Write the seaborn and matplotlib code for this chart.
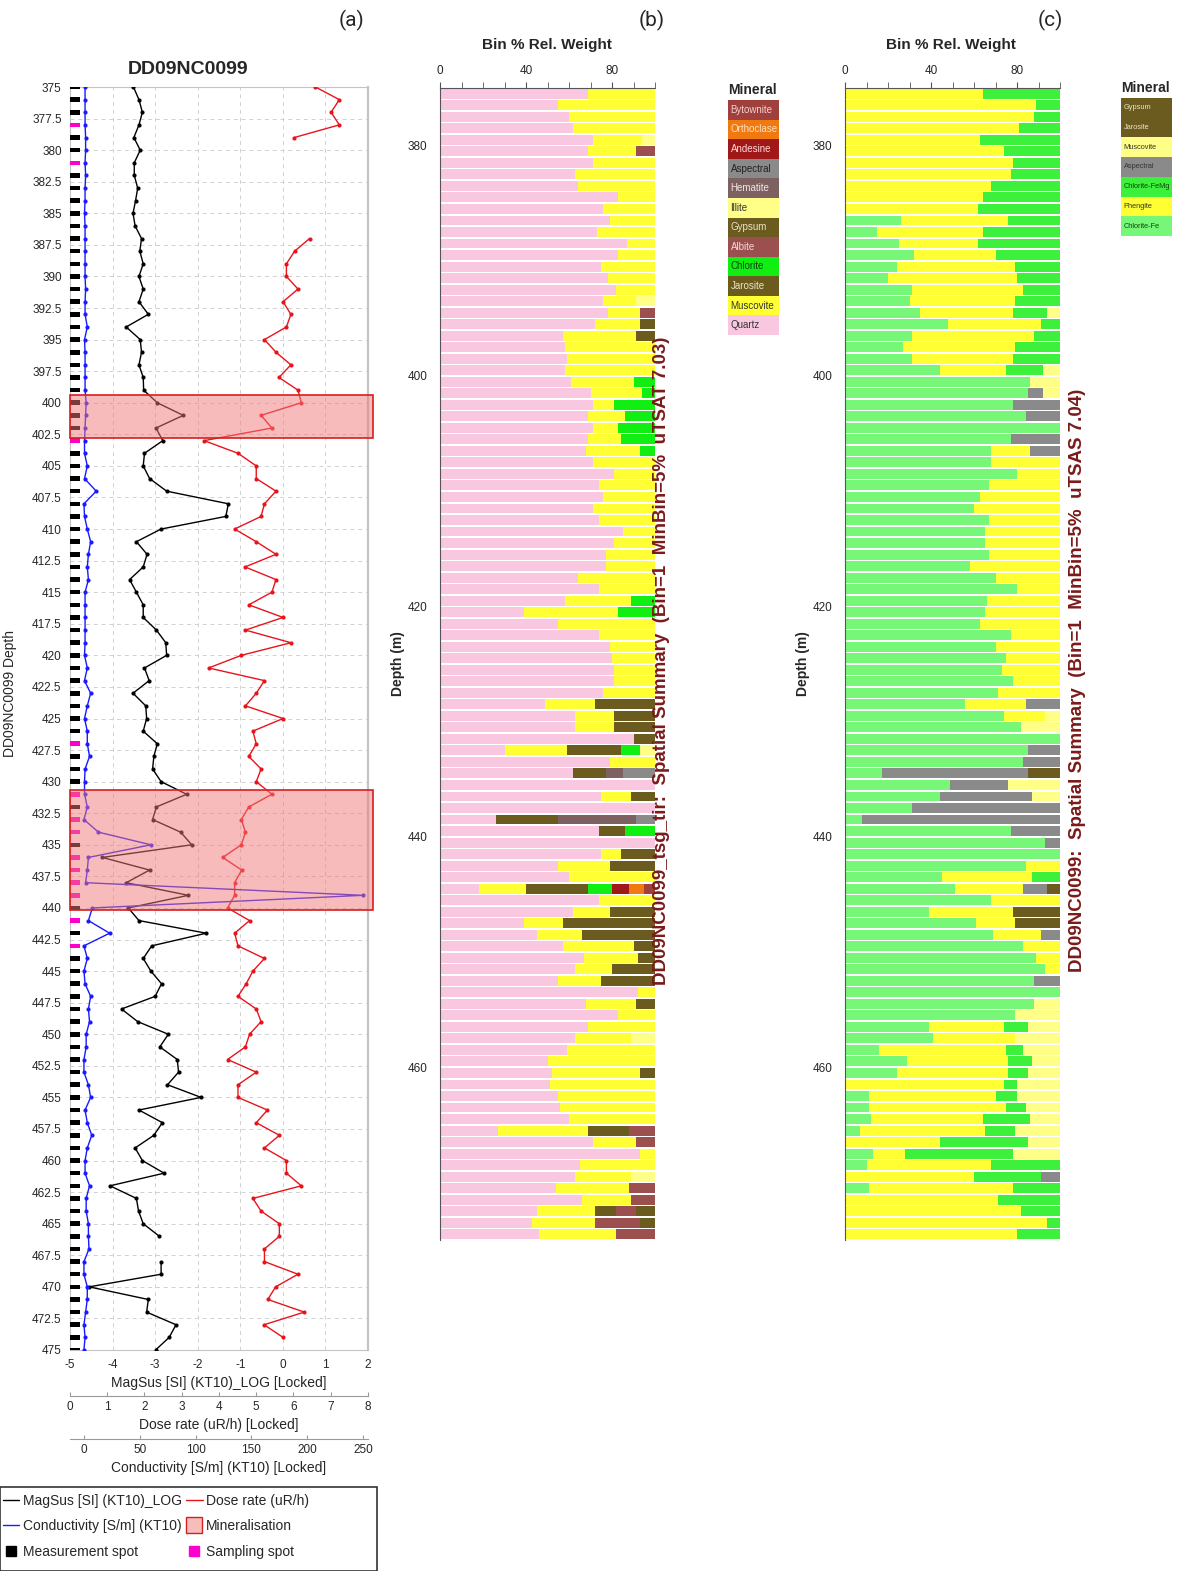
import matplotlib
matplotlib.use("Agg")
import matplotlib.pyplot as plt
import seaborn as sns
import pandas as pd
import numpy as np
from matplotlib.lines import Line2D
from matplotlib.patches import Rectangle

# ---------------- panel (a) : KT10 readings, one per metre 375..475 m
depth = np.arange(375, 476)
nan = np.nan

magsus = [-3.51, -3.38, -3.30, -3.38, -3.50, -3.35, -3.49, -3.49, -3.41, -3.46,
          -3.52, -3.47, -3.32, -3.36, -3.28, -3.38, -3.28, -3.38, -3.16, -3.68,
          -3.35, -3.32, -3.38, -3.28, -3.27, -2.95, -2.34, -2.98, -2.82, -3.25,
          -3.28, -3.13, -2.73, -1.28, -1.34, -2.86, -3.44, -3.19, -3.28, -3.60,
          -3.44, -3.28, -3.28, -2.97, -2.75, -2.73, -3.25, -3.14, -3.52, -3.22,
          -3.20, -3.28, -2.95, -3.03, -3.06, -2.86, -2.26, -2.97, -3.06, -2.40,
          -2.14, -4.24, -3.13, -3.68, -2.22, -3.63, -3.38, -1.80, -3.08, -3.28,
          -3.10, -2.85, -3.00, -3.79, -3.41, -2.69, -2.89, -2.48, -2.45, -2.71,
          -1.92, -3.38, -2.83, -3.03, -3.47, -3.30, -2.79, -4.06, -3.44, -3.39,
          -3.28, -2.90, nan, -2.86, -2.86, -4.55, -3.16, -3.20, -2.51, -2.67, -2.99]

dose = [6.59, 7.23, 7.01, 7.23, 6.02, nan, nan, nan, nan, nan,
        nan, nan, 6.43, 6.03, 5.81, 5.81, 6.12, 5.72, 5.93, 5.81,
        5.22, 5.53, 5.93, 5.61, 6.12, 6.21, 5.13, 5.42, 3.60, 4.51,
        5.00, 5.00, 5.53, 5.22, 5.13, 4.42, 5.00, 5.53, 4.70, 5.53,
        5.42, 4.80, 5.72, 4.71, 5.93, 4.60, 3.72, 5.22, 5.00, 4.71,
        5.72, 4.91, 5.00, 4.80, 5.13, 5.00, 5.42, 4.80, 4.60, 4.71,
        4.60, 4.10, 4.61, 4.42, 4.42, 4.23, 4.82, 4.42, 4.51, 5.22,
        4.91, 4.73, 4.51, 5.00, 5.13, 4.82, 4.71, 4.23, 5.00, 4.51,
        4.51, 5.30, 5.00, 5.62, 5.22, 5.81, 5.81, 6.21, 4.91, 5.13,
        5.62, 5.62, 5.22, 5.22, 6.12, 5.52, 5.31, 6.29, 5.21, 5.72, nan]

cond = [1, 1, 1, 1, 1.5, 1.5, 1, 1.5, 1, 1,
        0.5, 1, 1, 1, 1, 1, 1.5, 1, 1, 3,
        0.5, 1, 1, 1, 1, 2, 1.5, 1, 0.5, 0.5,
        3, 0.5, 11, 0, 0.5, 3, 6, 4, 3, 4,
        1, 1, 1, 1, 1, 0.5, 3, 0.5, 6, 3,
        0.5, 3, 3, 5, 1, 0.5, 0.5, 3, 0, 13,
        60, 4, 3, 1.5, 250, 7.5, 4, 23, 0, 3,
        0, 1, 6, 4, 5, 2, 2, 0, 0, 4,
        6, 1, 3, 7, 3, 1, 1, 5, 2, 2,
        4, 4, 4.5, 0, 0, 3, 3, 1.5, 0, 1, 0]

sampling_depths = [378, 381, 403, 427, 431, 433, 434, 436, 437, 438, 439, 441, 443]
mineral_zones = [(399.4, 402.8), (430.7, 440.2)]

# ---------------- panel (b) : TSG TIR bin % per metre (375..474 m)
bins = np.arange(375, 475)
b_quartz = [69, 55, 60, 62, 71, 69, 71, 63, 64, 83,
            76, 79, 73, 87, 83, 75, 78, 82, 76, 78,
            72, 57, 58, 59, 58, 61, 70, 71, 69, 71,
            69, 68, 71, 81, 74, 76, 71, 74, 85, 81,
            77, 77, 64, 74, 58, 39, 55, 74, 79, 80,
            81, 81, 76, 49, 63, 63, 90, 30, 79, 62,
            100, 75, 100, 26, 74, 100, 75, 55, 60, 18,
            74, 62, 39, 45, 57, 67, 63, 55, 92, 68,
            83, 69, 63, 59, 50, 52, 51, 55, 56, 60,
            27, 71, 93, 65, 63, 54, 66, 45, 43, 46]
b_muscovite = [31, 45, 40, 38, 23, 22, 29, 37, 36, 17,
               24, 21, 27, 13, 17, 25, 22, 18, 15, 15,
               21, 34, 42, 41, 42, 29, 24, 10, 17, 12,
               15, 25, 29, 19, 26, 24, 29, 26, 15, 19,
               23, 23, 36, 26, 31, 44, 45, 26, 21, 20,
               19, 19, 24, 23, 18, 18, 0, 29, 21, 0,
               0, 14, 0, 0, 0, 0, 9, 24, 40, 22,
               26, 17, 18, 21, 33, 25, 17, 20, 8, 23,
               17, 31, 26, 41, 50, 41, 49, 45, 44, 40,
               42, 20, 7, 35, 26, 34, 23, 27, 29, 36]
b_jarosite = {395: 7, 396: 9, 428: 28, 429: 19, 430: 19, 431: 10, 432: 25, 434: 15,
              436: 11, 438: 29, 439: 12, 441: 16, 442: 21, 444: 29, 446: 21, 447: 43,
              448: 34, 449: 10, 450: 8, 451: 20, 452: 25, 454: 9, 460: 7, 465: 19, 472: 10}
b_hematite = {434: 8, 438: 36}
b_aspectral = {434: 15, 438: 9}
b_chlorite = {400: 10, 401: 6, 402: 19, 403: 14, 404: 17, 405: 16, 406: 7,
              419: 11, 420: 17, 432: 9, 439: 14, 444: 11}
b_illite = {379: 6, 393: 9, 432: 7, 457: 11, 469: 11}
b_andesine = {444: 8}
b_orthoclase = {444: 7}
b_bytownite = {444: 5}
b_albite = {380: 9, 394: 7, 465: 12, 466: 9, 470: 12, 471: 11, 472: 9, 473: 21, 474: 18}
b_gypsum = {472: 9, 473: 7}

# ---------------- panel (c) : TSG SWIR bin % per metre
c_chlorite_fe = [0, 0, 0, 0, 0, 0, 0, 0, 0, 0,
                 0, 26, 15, 25, 32, 24, 20, 31, 30, 35,
                 48, 31, 27, 31, 44, 86, 85, 78, 84, 100,
                 77, 68, 68, 80, 67, 63, 60, 67, 65, 65,
                 67, 58, 70, 80, 66, 65, 63, 77, 70, 75,
                 73, 78, 71, 56, 74, 82, 100, 85, 83, 17,
                 49, 44, 31, 8, 77, 93, 100, 84, 45, 51,
                 68, 39, 61, 69, 83, 89, 93, 88, 100, 88,
                 79, 39, 41, 16, 29, 24, 0, 11, 11, 12,
                 7, 0, 13, 10, 0, 11, 0, 0, 0, 0]
c_phengite = [64, 89, 88, 81, 63, 74, 78, 77, 68, 64,
              62, 50, 49, 37, 38, 55, 60, 52, 49, 43,
              43, 57, 52, 47, 31, 0, 0, 0, 0, 0,
              0, 18, 32, 20, 33, 37, 40, 33, 35, 35,
              33, 42, 30, 20, 34, 35, 37, 23, 30, 25,
              27, 22, 29, 28, 19, 0, 0, 0, 0, 0,
              0, 0, 0, 0, 0, 0, 0, 16, 42, 32,
              32, 39, 18, 22, 17, 11, 7, 0, 0, 0,
              0, 35, 38, 59, 47, 52, 74, 59, 64, 52,
              58, 44, 15, 58, 60, 67, 71, 82, 94, 80]
c_chlorite_femg = [36, 11, 12, 19, 37, 26, 22, 23, 32, 36,
                   38, 24, 36, 38, 30, 21, 20, 17, 21, 16,
                   9, 12, 21, 22, 17, 0, 0, 0, 0, 0,
                   0, 0, 0, 0, 0, 0, 0, 0, 0, 0,
                   0, 0, 0, 0, 0, 0, 0, 0, 0, 0,
                   0, 0, 0, 0, 0, 0, 0, 0, 0, 0,
                   0, 0, 0, 0, 0, 0, 0, 0, 13, 0,
                   0, 0, 0, 0, 0, 0, 0, 0, 0, 0,
                   0, 11, 0, 8, 11, 9, 6, 10, 9, 22,
                   14, 41, 50, 32, 31, 22, 29, 18, 6, 20]
c_aspectral = {401: 7, 402: 22, 403: 16, 405: 23, 406: 14, 428: 16, 432: 15, 433: 17,
               434: 68, 435: 27, 436: 43, 437: 69, 438: 92, 439: 23, 440: 7, 444: 11,
               448: 9, 452: 12, 469: 9}
c_muscovite = {394: 6, 399: 8, 400: 14, 401: 8, 429: 7, 430: 18, 435: 24, 436: 13,
               454: 12, 455: 21, 456: 15, 457: 21, 458: 17, 459: 13, 460: 15, 461: 20,
               462: 20, 463: 16, 464: 14, 465: 21, 466: 15, 467: 22}
c_jarosite = {434: 15, 444: 6, 446: 22, 447: 21}

olive = "#6b5b1f"
b_colors = {"Quartz": "#f9c8e0", "Muscovite": "#ffff33", "Jarosite": olive,
            "Hematite": "#7d6060", "Aspectral": "#8a8a8a", "Chlorite": "#11ee11",
            "Illite": "#ffff88", "Andesine": "#a01818", "Orthoclase": "#f07a10",
            "Bytownite": "#a0403c", "Albite": "#9b4f4f", "Gypsum": olive}
c_colors = {"Chlorite-Fe": "#77f777", "Phengite": "#ffff33", "Chlorite-FeMg": "#3cf03c",
            "Aspectral": "#8a8a8a", "Muscovite": "#ffff88", "Jarosite": olive}

b_legend = ["Bytownite", "Orthoclase", "Andesine", "Aspectral", "Hematite", "Illite",
            "Gypsum", "Albite", "Chlorite", "Jarosite", "Muscovite", "Quartz"]
b_legend_text = ["#f3d0d0", "#ffe0c0", "#ffd8d8", "#222222", "#f3e6e6", "#333333",
                 "#ece4c8", "#f3d8d8", "#114411", "#ece4c8", "#333333", "#333333"]
c_legend = ["Gypsum", "Jarosite", "Muscovite", "Aspectral", "Chlorite-FeMg",
            "Phengite", "Chlorite-Fe"]
c_legend_colors = [olive, olive, "#ffff88", "#8a8a8a", "#3cf03c", "#ffff33", "#77f777"]
c_legend_text = ["#ece4c8", "#ece4c8", "#333333", "#333333", "#114411", "#333333", "#114411"]


def sparse(d):
    return pd.Series(d, dtype=float).reindex(bins).fillna(0).values


df_b = pd.DataFrame({"Quartz": b_quartz, "Muscovite": b_muscovite,
                     "Jarosite": sparse(b_jarosite), "Hematite": sparse(b_hematite),
                     "Aspectral": sparse(b_aspectral), "Chlorite": sparse(b_chlorite),
                     "Illite": sparse(b_illite), "Andesine": sparse(b_andesine),
                     "Orthoclase": sparse(b_orthoclase), "Bytownite": sparse(b_bytownite),
                     "Albite": sparse(b_albite), "Gypsum": sparse(b_gypsum)}, index=bins)
df_c = pd.DataFrame({"Chlorite-Fe": c_chlorite_fe, "Phengite": c_phengite,
                     "Chlorite-FeMg": c_chlorite_femg, "Aspectral": sparse(c_aspectral),
                     "Muscovite": sparse(c_muscovite), "Jarosite": sparse(c_jarosite)},
                    index=bins)

sns.set_style("white")
plt.rcParams["font.family"] = ["Liberation Sans", "DejaVu Sans"]
plt.rcParams["axes.unicode_minus"] = False

W, H = 1179, 1571
fig = plt.figure(figsize=(W / 100, H / 100), dpi=100)


def px_axes(x0, y0, x1, y1):
    return fig.add_axes([x0 / W, 1 - y1 / H, (x1 - x0) / W, (y1 - y0) / H])


# ================= panel (a)
dfa = pd.DataFrame({"depth": depth, "magsus": magsus, "dose": dose, "cond": cond})
dfa["magsus_seg"] = dfa["magsus"].isna().cumsum()
dfa["dose_seg"] = dfa["dose"].isna().cumsum()

ax = px_axes(70, 87, 368, 1350)
ax_dose = ax.twiny()
ax_cond = ax.twiny()

spot_colors = ["#ff00cc" if d in sampling_depths else "black" for d in depth]
ax.barh(depth, 0.235, left=-5, height=0.36, color=spot_colors, linewidth=0, zorder=3)

sns.lineplot(data=dfa, x="magsus", y="depth", units="magsus_seg", estimator=None,
             sort=False, color="black", lw=1, marker="o", markersize=3,
             markeredgewidth=0, ax=ax, zorder=4)
sns.lineplot(data=dfa, x="dose", y="depth", units="dose_seg", estimator=None,
             sort=False, color="#e8141c", lw=1, marker="o", markersize=3,
             markeredgewidth=0, ax=ax_dose)
sns.lineplot(data=dfa, x="cond", y="depth", estimator=None, sort=False,
             color="#1a1aff", lw=1, marker="o", markersize=3,
             markeredgewidth=0, ax=ax_cond)

for lo, hi in mineral_zones:
    ax_cond.axhspan(lo, hi, xmin=0, xmax=1.017, facecolor=(0.94, 0.47, 0.47, 0.5),
                    edgecolor="#d42020", lw=1.2, clip_on=False, zorder=6)

ax.set_xlim(-5, 2)
ax.set_ylim(475, 375)
ax.set_xticks(range(-5, 3))
ax.set_yticks(np.arange(375, 476, 2.5))
ax.set_yticklabels([f"{v:g}" for v in np.arange(375, 476, 2.5)])
ax.grid(True, color="#d0d0d0", linestyle=(0, (4, 4)), linewidth=0.7)
ax.tick_params(axis="both", length=0, labelsize=8.5)
ax.tick_params(axis="x", pad=6.5)
ax.tick_params(axis="y", pad=6)
for s in ax.spines.values():
    s.set_color("#c4c4c4")
    s.set_linewidth(0.8)
ax.spines["right"].set_linewidth(1.6)
ax.set_xlabel("MagSus [SI] (KT10)_LOG [Locked]", fontsize=10, labelpad=3.5)
ax.set_ylabel("DD09NC0099 Depth", fontsize=10)
ax.yaxis.set_label_coords(-0.178, 0.52)

for tw, lim, ticks, label, out in [
        (ax_dose, (0, 8), range(0, 9), "Dose rate (uR/h) [Locked]", 33),
        (ax_cond, (-12.5, 254.5), range(0, 251, 50), "Conductivity [S/m] (KT10) [Locked]", 64)]:
    tw.set_xlim(*lim)
    tw.set_xticks(list(ticks))
    tw.xaxis.set_ticks_position("bottom")
    tw.xaxis.set_label_position("bottom")
    tw.spines["bottom"].set_position(("outward", out))
    tw.spines["bottom"].set_color("#9a9a9a")
    for s in ["top", "left", "right"]:
        tw.spines[s].set_visible(False)
    tw.tick_params(axis="x", direction="in", length=3, color="#9a9a9a",
                   labelsize=8.5, pad=4)
    tw.set_xlabel(label, fontsize=10, labelpad=3.5)
    tw.grid(False)
ax_dose.set_ylim(475, 375)

fig.text(188 / W, 1 - 69 / H, "DD09NC0099", fontsize=14, fontweight="bold",
         ha="center", va="center")

# legend of panel (a)
handles = [Line2D([], [], color="black", lw=1),
           Line2D([], [], color="#1a1aff", lw=1),
           Line2D([], [], color="black", marker="s", ls="none", markersize=7),
           Line2D([], [], color="#e8141c", lw=1),
           Line2D([], [], marker="s", ls="none", markersize=12,
                  markerfacecolor="#f7bcbc", markeredgecolor="#d42020", markeredgewidth=1),
           Line2D([], [], color="#ff00cc", marker="s", ls="none", markersize=7)]
labels = ["MagSus [SI] (KT10)_LOG", "Conductivity [S/m] (KT10)", "Measurement spot",
          "Dose rate (uR/h)", "Mineralisation", "Sampling spot"]
fig.legend(handles, labels, ncol=2, loc="upper left",
           bbox_to_anchor=(0.0, 1 - 1491 / H), frameon=False, fontsize=10,
           handlelength=1.2, handletextpad=0.25, columnspacing=0.3,
           labelspacing=0.82, borderpad=0.2, borderaxespad=0)
fig.patches.append(Rectangle((0, 0), 377 / W, 84 / H, transform=fig.transFigure,
                             fill=False, edgecolor="#333333", lw=1.2))


# ================= panels (b) and (c)
def stacked(ax, df, colors):
    left = np.zeros(len(df))
    for name in df.columns:
        ax.barh(df.index + 0.5, df[name].values, left=left, height=0.86,
                color=colors[name], linewidth=0)
        left = left + df[name].values
    ax.set_xlim(0, 100)
    ax.set_ylim(475, 375)
    ax.xaxis.tick_top()
    ax.set_xticks([0, 40, 80])
    ax.set_xticks(np.arange(0, 101, 10), minor=True)
    ax.set_yticks(np.arange(380, 461, 20))
    ax.set_yticks(np.arange(375, 476, 5), minor=True)
    ax.tick_params(which="both", length=4, color="#555555", labelsize=8.5)
    ax.tick_params(axis="y", pad=5)
    ax.tick_params(axis="x", pad=4)
    ax.grid(False)
    for s in ["right", "bottom"]:
        ax.spines[s].set_visible(False)
    for s in ["top", "left"]:
        ax.spines[s].set_color("#555555")
        ax.spines[s].set_linewidth(0.8)
    ax.set_ylabel("Depth (m)", fontsize=10, fontweight="bold")
    ax.yaxis.set_label_coords(-0.165, 0.5)


def mineral_legend(x0, y0, x1, y1, names, colors, text_colors, fs):
    lax = px_axes(x0, y0, x1, y1)
    lax.barh(np.arange(len(names)), 1, height=1, color=colors, linewidth=0)
    lax.set_xlim(0, 1)
    lax.set_ylim(len(names) - 0.5, -0.5)
    lax.axis("off")
    for i, (n, tc) in enumerate(zip(names, text_colors)):
        lax.text(0.05, i, n, ha="left", va="center", fontsize=fs, color=tc)
    fig.text(x0 / W, 1 - (y0 - 10) / H, "Mineral", fontsize=10, fontweight="bold",
             ha="left", va="center")


ax_b = px_axes(440, 88, 655, 1240)
stacked(ax_b, df_b, b_colors)
ax_c = px_axes(845, 88, 1060, 1240)
stacked(ax_c, df_c, c_colors)

mineral_legend(728, 100, 779, 335, b_legend, [b_colors[n] for n in b_legend],
               b_legend_text, 7)
mineral_legend(1121, 98, 1172, 236, c_legend, c_legend_colors, c_legend_text, 5.3)

for xc in (547, 951):
    fig.text(xc / W, 1 - 45 / H, "Bin % Rel. Weight", fontsize=11, fontweight="bold",
             ha="center", va="center")

fig.text(662 / W, 1 - 661 / H,
         "DD09NC0099_tsg_tir:  Spatial Summary  (Bin=1  MinBin=5%  uTSAT 7.03)",
         rotation=90, fontsize=13.5, fontweight="bold", color="#7b1a1a",
         ha="center", va="center")
fig.text(1077 / W, 1 - 680 / H,
         "DD09NC0099:  Spatial Summary  (Bin=1  MinBin=5%  uTSAS 7.04)",
         rotation=90, fontsize=13.5, fontweight="bold", color="#7b1a1a",
         ha="center", va="center")

for xc, lab in [(352, "(a)"), (652, "(b)"), (1050, "(c)")]:
    fig.text(xc / W, 1 - 20 / H, lab, fontsize=15, ha="center", va="center",
             family=["Roboto", "DejaVu Sans"])

fig.savefig("out.png", dpi=100)
